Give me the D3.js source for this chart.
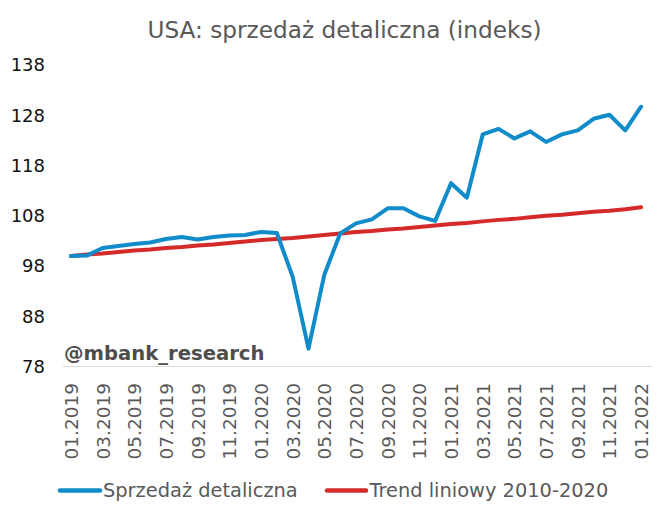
<!DOCTYPE html>
<html>
<head>
<meta charset="utf-8">
<script src="https://cdn.jsdelivr.net/npm/d3@7"></script>
<style>
  html, body { margin: 0; padding: 0; background: #fff; }
  svg { display: block; }
</style>
</head>
<body>
<svg id="chart" width="672" height="512"></svg>
<script>
const months = [
  "01.2019","02.2019","03.2019","04.2019","05.2019","06.2019","07.2019","08.2019","09.2019","10.2019","11.2019","12.2019",
  "01.2020","02.2020","03.2020","04.2020","05.2020","06.2020","07.2020","08.2020","09.2020","10.2020","11.2020","12.2020",
  "01.2021","02.2021","03.2021","04.2021","05.2021","06.2021","07.2021","08.2021","09.2021","10.2021","11.2021","12.2021",
  "01.2022"
];
const retailSales = [
  100.0, 100.1, 101.6, 102.0, 102.4, 102.7, 103.4, 103.8, 103.3, 103.8, 104.1, 104.2,
  104.8, 104.6, 95.9, 81.6, 96.3, 104.5, 106.5, 107.3, 109.5, 109.5, 107.9, 107.0,
  114.5, 111.6, 124.2, 125.3, 123.4, 124.8, 122.7, 124.2, 125.0, 127.3, 128.1, 125.0,
  129.7
];
const trend = [
  100.0, 100.3, 100.5, 100.8, 101.1, 101.3, 101.6, 101.8, 102.1, 102.3, 102.6, 102.9,
  103.2, 103.4, 103.6, 103.9, 104.2, 104.5, 104.8, 105.0, 105.3, 105.5, 105.8, 106.1,
  106.4, 106.6, 106.9, 107.2, 107.4, 107.7, 108.0, 108.2, 108.5, 108.8, 109.0, 109.3,
  109.7
];
const yTicks = [78, 88, 98, 108, 118, 128, 138];
const seriesNames = ["Sprzedaż detaliczna", "Trend liniowy 2010-2020"];
const title = "USA: sprzedaż detaliczna (indeks)";
const watermark = "@mbank_research";

const blue = "#118ccb", red = "#d42a2a";
const svg = d3.select("#chart");

const x = d3.scalePoint().domain(months).range([63, 649]).padding(0.5);
const y = d3.scaleLinear().domain([78, 138]).range([366.7, 65]);

// title
svg.append("text")
  .attr("x", 344.5).attr("y", 37.5)
  .attr("text-anchor", "middle")
  .attr("font-family", "DejaVu Sans, sans-serif")
  .attr("font-size", 23.2)
  .attr("fill", "#595959")
  .text(title);

// y axis
const yAxis = svg.append("g")
  .attr("transform", "translate(63,0)")
  .call(d3.axisLeft(y).tickValues(yTicks).tickSize(0).tickPadding(18).tickFormat(d3.format("d")));
yAxis.select(".domain").remove();
yAxis.selectAll("text")
  .attr("font-family", "DejaVu Sans, sans-serif")
  .attr("font-size", 18)
  .attr("fill", "#111");

// x axis
const xAxis = svg.append("g")
  .attr("transform", "translate(0,366)")
  .call(d3.axisBottom(x).tickValues(months.filter((d, i) => i % 2 === 0)).tickSize(0).tickPadding(0));
xAxis.select(".domain")
  .attr("d", "M63,0.5H652")
  .attr("stroke", "#d9d9d9").attr("stroke-width", 1);
xAxis.selectAll("text")
  .attr("font-family", "DejaVu Sans, sans-serif")
  .attr("font-size", 18.5)
  .attr("fill", "#595959")
  .attr("text-anchor", "end")
  .attr("dy", null)
  .attr("transform", "translate(0,17) rotate(-90)")
  .attr("x", 0).attr("y", 0)
  .attr("dominant-baseline", "central");

// watermark
svg.append("text")
  .attr("x", 64).attr("y", 360)
  .attr("font-family", "DejaVu Sans, sans-serif")
  .attr("font-weight", "bold")
  .attr("font-size", 19.6)
  .attr("fill", "#4d4d4d")
  .text(watermark);

// lines
const line = d3.line().x((d, i) => x(months[i])).y(d => y(d));
svg.append("path").datum(trend)
  .attr("d", line).attr("fill", "none")
  .attr("stroke", red).attr("stroke-width", 4).attr("stroke-linejoin", "round").attr("stroke-linecap", "round");
svg.append("path").datum(retailSales)
  .attr("d", line).attr("fill", "none")
  .attr("stroke", blue).attr("stroke-width", 4).attr("stroke-linejoin", "round").attr("stroke-linecap", "round");

// legend
const legend = [
  { name: seriesNames[0], color: blue, x1: 60, x2: 100, tx: 103 },
  { name: seriesNames[1], color: red, x1: 327, x2: 366, tx: 369.5 }
];
const lg = svg.append("g");
legend.forEach(l => {
  lg.append("line").attr("x1", l.x1).attr("x2", l.x2).attr("y1", 490.5).attr("y2", 490.5)
    .attr("stroke", l.color).attr("stroke-width", 4.5).attr("stroke-linecap", "round");
  lg.append("text").attr("x", l.tx).attr("y", 497)
    .attr("font-family", "DejaVu Sans, sans-serif")
    .attr("font-size", 19.4)
    .attr("fill", "#595959")
    .text(l.name);
});
</script>
</body>
</html>
